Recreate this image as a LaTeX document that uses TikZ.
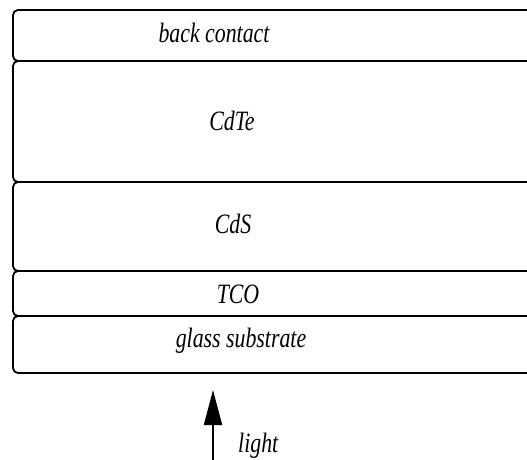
\documentclass[tikz,border=0pt]{standalone}
\usepackage{fontspec}
\setmainfont{Liberation Serif}
\newfontfamily\labfont[FakeStretch=0.78]{Liberation Serif}
\usetikzlibrary{arrows.meta}
\begin{document}
\begin{tikzpicture}[x=1pt,y=-1pt,
  layerbox/.style={draw, line width=1.8pt, rounded corners=5pt, inner sep=0pt, outer sep=0pt},
  lab/.style={font=\labfont\itshape\fontsize{28}{30}\selectfont, anchor=base, inner sep=0pt}]
\useasboundingbox (0,0) rectangle (527,460);
\clip (0,0) rectangle (527,460);
\node[layerbox, minimum width=547pt, minimum height=51pt]  (bc)    at (286.5,35.5)  {};
\node[layerbox, minimum width=547pt, minimum height=121pt] (cdte)  at (286.5,121.5) {};
\node[layerbox, minimum width=547pt, minimum height=89pt]  (cds)   at (286.5,226.5) {};
\node[layerbox, minimum width=547pt, minimum height=45pt]  (tco)   at (286.5,293.5) {};
\node[layerbox, minimum width=547pt, minimum height=57pt]  (glass) at (286.5,344.5) {};
\node[lab] (tbc)    at (214,42)  {back contact};
\node[lab] (tcdte)  at (232,130) {CdTe};
\node[lab] (tcds)   at (233,233) {CdS};
\node[lab] (ttco)   at (238,303) {TCO};
\node[lab] (tglass) at (241,347) {glass substrate};
\node[lab, anchor=base west] (tlight) at (238,452) {light};
\coordinate (lsrc) at (213,465);
\coordinate (ltip) at (213,390);
\draw[line width=2pt, -{Triangle[length=35pt,width=18pt]}] (lsrc) -- (ltip);
\end{tikzpicture}
\end{document}
